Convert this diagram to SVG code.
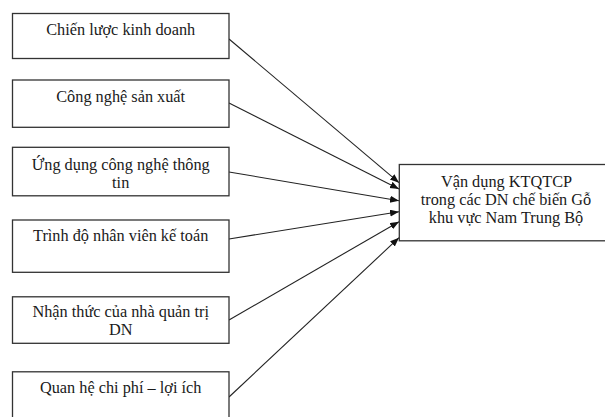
<svg xmlns="http://www.w3.org/2000/svg" width="605" height="417" viewBox="0 0 605 417">
<style>
.box{fill:#fff;stroke:#333;stroke-width:1.3}
.t{font-family:'Liberation Serif','Times New Roman',Tinos,'DejaVu Serif',serif;font-size:16.3px;fill:#1a1a1a;text-anchor:middle}
.c{stroke:#222;stroke-width:1.1;fill:none;marker-end:url(#ah)}
</style>
<defs>
<marker id="ah" markerUnits="userSpaceOnUse" markerWidth="10" markerHeight="8" refX="9" refY="3.5" orient="auto">
<path d="M0,0 L9,3.5 L0,7 z" fill="#111"/>
</marker>
</defs>
<rect width="605" height="417" fill="#fff"/>
<g id="connectors">
<line class="c" x1="229" y1="39" x2="399" y2="182.7"/>
<line class="c" x1="229" y1="103" x2="399" y2="189"/>
<line class="c" x1="229" y1="172" x2="399" y2="200.7"/>
<line class="c" x1="229" y1="239" x2="399" y2="211.7"/>
<line class="c" x1="229" y1="320" x2="399" y2="221.7"/>
<line class="c" x1="229" y1="397" x2="399" y2="237.7"/>
</g>
<g id="n1"><rect class="box" x="12.5" y="13.5" width="216.5" height="45"/><text class="t" x="120.7" y="35">Chiến lược kinh doanh</text></g>
<g id="n2"><rect class="box" x="12.5" y="80" width="216.5" height="47.3"/><text class="t" x="120.7" y="101.5">Công nghệ sản xuất</text></g>
<g id="n3"><rect class="box" x="12.5" y="147.3" width="216.5" height="48.5"/><text class="t" x="120.7" y="170">Ứng dụng công nghệ thông</text><text class="t" x="120.7" y="187.5">tin</text></g>
<g id="n4"><rect class="box" x="12.5" y="220" width="216.5" height="52.3"/><text class="t" x="120.7" y="240.5">Trình độ nhân viên kế toán</text></g>
<g id="n5"><rect class="box" x="12.5" y="296.8" width="216.5" height="46.5"/><text class="t" x="120.7" y="316.5">Nhận thức của nhà quản trị</text><text class="t" x="120.7" y="335">DN</text></g>
<g id="n6"><rect class="box" x="12.5" y="371.8" width="216.5" height="60"/><text class="t" x="120.7" y="393">Quan hệ chi phí – lợi ích</text></g>
<g id="n7"><rect class="box" x="399.3" y="164.5" width="214" height="76.3"/><text class="t" x="506.5" y="186.7">Vận dụng KTQTCP</text><text class="t" x="506" y="205">trong các DN chế biến Gỗ</text><text class="t" x="506" y="223.3">khu vực Nam Trung Bộ</text></g>
</svg>
